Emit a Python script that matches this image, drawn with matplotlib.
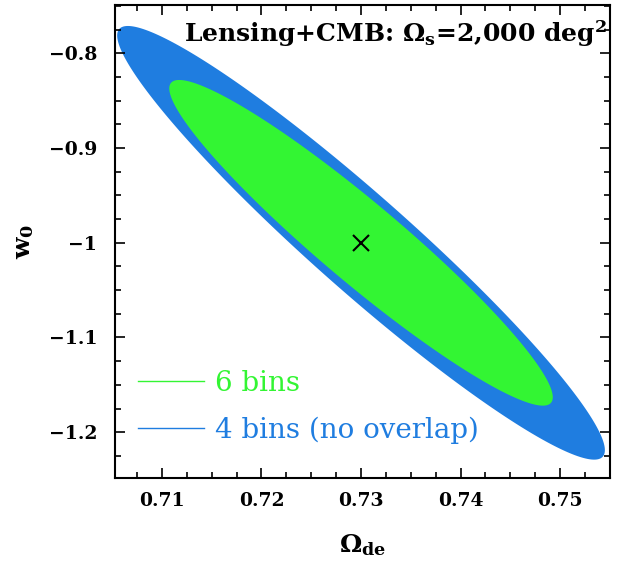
import numpy as np
import matplotlib
matplotlib.use("Agg")
from matplotlib import pyplot as plt
from matplotlib.lines import Line2D

# fiducial model
omega_de_fid = 0.73
w0_fid = -1.0

# 1-sigma marginal errors and correlation for each binning
labels = ["4 bins (no overlap)", "6 bins"]
sigma_de = [0.01615, 0.0127]
sigma_w0 = [0.151, 0.1134]
rho = [-0.956, -0.948]
colors = ["#1f7de0", "#33f533"]

# delta chi^2 for the 68% region of two parameters
dchi2 = 2.30


def ellipse(sx, sy, r, n=400):
    cov = np.array([[sx ** 2, r * sx * sy], [r * sx * sy, sy ** 2]])
    vals, vecs = np.linalg.eigh(cov)
    t = np.linspace(0, 2 * np.pi, n)
    circle = np.vstack([np.cos(t), np.sin(t)]) * np.sqrt(dchi2 * vals)[:, None]
    pts = vecs @ circle
    return omega_de_fid + pts[0], w0_fid + pts[1]


plt.rcParams['font.family'] = 'DejaVu Serif'
plt.rcParams['mathtext.fontset'] = 'dejavuserif'
fig = plt.figure(figsize=(6.36, 5.72), dpi=100)
ax = fig.add_axes([0.181, 0.164, 0.778, 0.827])

for sx, sy, r, c in zip(sigma_de, sigma_w0, rho, colors):
    ex, ey = ellipse(sx, sy, r)
    ax.fill(ex, ey, color=c, lw=0)

ax.plot(omega_de_fid, w0_fid, 'x', color='black', ms=12, mew=1.5)

ax.set_xlim(0.7053, 0.7550)
ax.set_ylim(-1.2486, -0.749)
ax.set_xticks([0.71, 0.72, 0.73, 0.74, 0.75])
ax.set_xticklabels(["0.71", "0.72", "0.73", "0.74", "0.75"])
ax.set_yticks([-0.8, -0.9, -1.0, -1.1, -1.2])
ax.set_yticklabels(["\u22120.8", "\u22120.9", "\u22121", "\u22121.1", "\u22121.2"])
ax.set_xticks(np.arange(0.7075, 0.755, 0.0025), minor=True)
ax.set_yticks(np.arange(-1.225, -0.75, 0.025), minor=True)
ax.tick_params(which='both', direction='in', top=True, right=True, width=1.2)
ax.tick_params(which='major', length=7, labelsize=13.5)
ax.tick_params(axis='x', which='major', pad=10)
ax.tick_params(axis='y', which='major', pad=13)
ax.tick_params(which='minor', length=4)
for lab in ax.get_xticklabels() + ax.get_yticklabels():
    lab.set_fontweight('bold')
for s in ax.spines.values():
    s.set_linewidth(1.5)

ax.set_xlabel(r"$\mathbf{\Omega_{de}}$", fontsize=18, labelpad=16)
ax.set_ylabel(r"$\mathbf{w_0}$", fontsize=18, labelpad=9)

ax.text(0.995, 0.972, r"Lensing+CMB: $\mathbf{\Omega_s}$=2,000 deg$^\mathbf{2}$",
        transform=ax.transAxes, ha='right', va='top', fontsize=18, fontweight='bold')

handles = [Line2D([], [], color=c, lw=1) for c in colors[::-1]]
leg = ax.legend(handles, labels[::-1], loc='lower left', bbox_to_anchor=(-0.005, 0.02),
                frameon=False, fontsize=20, handlelength=2.4, handletextpad=0.4,
                labelspacing=0.7, labelcolor='linecolor')

fig.savefig("out.png", dpi=100)
